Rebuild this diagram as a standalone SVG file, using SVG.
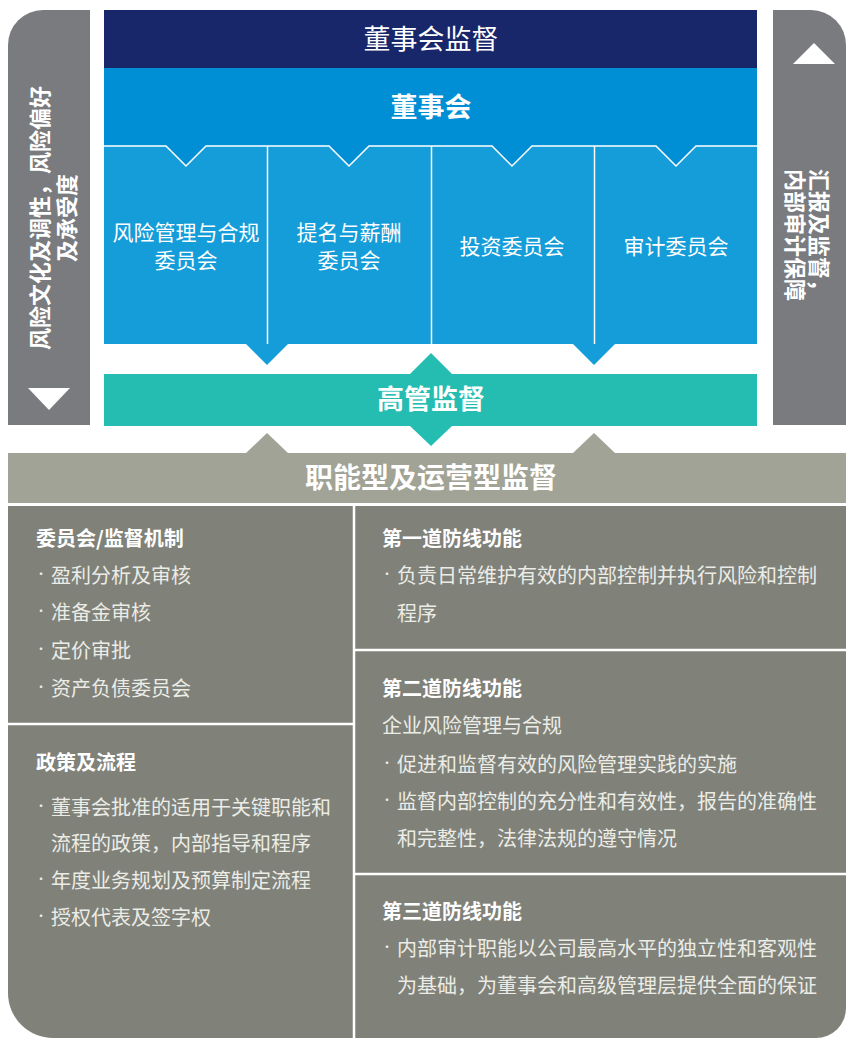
<svg xmlns="http://www.w3.org/2000/svg" width="846" height="1038" viewBox="0 0 846 1038">
<style>
.t{font-family:"Noto Sans CJK SC","Noto Sans",sans-serif;fill:#ffffff}
.b{font-weight:bold}
.c{text-anchor:middle}
.body{font-size:20px;fill:#ecece7}
.h{font-size:20px;font-weight:bold;fill:#ffffff}
.bul{font-size:12px}
.sep{stroke:#ffffff;stroke-width:2.5;fill:none}
.thin{stroke:#ffffff;stroke-width:1.5;fill:none}
</style>
<rect width="846" height="1038" fill="#ffffff"/>

<g id="side-left">
<path d="M43,10 H90 V425 H8 V45 A35,35 0 0 1 43,10 Z" fill="#7a7b7f"/>
<polygon points="28,388 70,388 49,410" fill="#ffffff"/>
<g transform="translate(50,218) rotate(-90)">
<text class="t b c" font-size="22" x="0" y="-12" dominant-baseline="central">风险文化及调性，风险偏好</text>
<text class="t b c" font-size="22" x="0" y="15" dominant-baseline="central">及承受度</text>
</g>
</g>

<g id="side-right">
<path d="M773,10 H811 A35,35 0 0 1 846,45 V425 H773 Z" fill="#7a7b7f"/>
<polygon points="793,64 835,64 814,43" fill="#ffffff"/>
<g transform="translate(809,235) rotate(90)">
<text class="t b c" font-size="22" x="0" y="-12" dominant-baseline="central">汇报及监督，</text>
<text class="t b c" font-size="22" x="0" y="12" dominant-baseline="central">内部审计保障</text>
</g>
</g>

<g id="board-oversight">
<rect x="104" y="10" width="653" height="58" fill="#18266a"/>
<text class="t c" font-size="27" x="431" y="49">董事会监督</text>
</g>

<g id="committees">
<rect x="104" y="146" width="653" height="198" fill="#149dd9"/>
<g id="committee-risk"><text class="t c" font-size="21" x="186" y="240">风险管理与合规</text><text class="t c" font-size="21" x="186" y="268">委员会</text></g>
<g id="committee-nomination"><text class="t c" font-size="21" x="349" y="240">提名与薪酬</text><text class="t c" font-size="21" x="349" y="268">委员会</text></g>
<g id="committee-investment"><text class="t c" font-size="21" x="512" y="254">投资委员会</text></g>
<g id="committee-audit"><text class="t c" font-size="21" x="676" y="254">审计委员会</text></g>
<line class="thin" x1="267.5" y1="146" x2="267.5" y2="344"/>
<line class="thin" x1="431.5" y1="146" x2="431.5" y2="344"/>
<line class="thin" x1="594.5" y1="146" x2="594.5" y2="344"/>
</g>

<g id="board">
<rect x="104" y="68" width="653" height="78" fill="#008fd5"/>
<polygon points="166,146 186,166 206,146" fill="#008fd5"/>
<polygon points="329,146 349,166 369,146" fill="#008fd5"/>
<polygon points="492,146 512,166 532,146" fill="#008fd5"/>
<polygon points="656,146 676,166 696,146" fill="#008fd5"/>
<polyline class="thin" points="104,146 166,146 186,166 206,146 329,146 349,166 369,146 492,146 512,166 532,146 656,146 676,166 696,146 757,146"/>
<text class="t b c" font-size="27" x="431" y="117">董事会</text>
</g>

<g id="senior-management">
<rect x="104" y="374" width="653" height="52" fill="#25bdb1"/>
<text class="t b c" font-size="27" x="431" y="409">高管监督</text>
</g>

<g id="functional-header">
<rect x="8" y="453" width="838" height="50" fill="#a0a396"/>
<text class="t b c" font-size="28" x="431" y="488">职能型及运营型监督</text>
</g>

<g id="connectors">
<polygon points="246,344 288,344 267,365" fill="#149dd9"/>
<polygon points="573,344 615,344 594,365" fill="#149dd9"/>
<polygon points="410,374 452,374 431,353" fill="#25bdb1"/>
<polygon points="410,426 452,426 431,446" fill="#25bdb1"/>
<polygon points="246,453 288,453 267,433" fill="#a0a396"/>
<polygon points="573,453 615,453 594,433" fill="#a0a396"/>
</g>

<g id="sections">
<path d="M8,506 H846 V1008 A30,30 0 0 1 816,1038 H53 A45,45 0 0 1 8,993 Z" fill="#808279"/>
<line class="sep" x1="354" y1="506" x2="354" y2="1038"/>
<line class="sep" x1="8" y1="724" x2="354" y2="724"/>
<line class="sep" x1="354" y1="650" x2="846" y2="650"/>
<line class="sep" x1="354" y1="874" x2="846" y2="874"/>
</g>

<g id="committee-mechanism">
<text class="t h" x="36" y="546">委员会/监督机制</text>
<text class="t body" x="35" y="583"><tspan class="bul" dy="-4">•</tspan><tspan x="51" dy="4">盈利分析及审核</tspan></text>
<text class="t body" x="35" y="620"><tspan class="bul" dy="-4">•</tspan><tspan x="51" dy="4">准备金审核</tspan></text>
<text class="t body" x="35" y="658"><tspan class="bul" dy="-4">•</tspan><tspan x="51" dy="4">定价审批</tspan></text>
<text class="t body" x="35" y="696"><tspan class="bul" dy="-4">•</tspan><tspan x="51" dy="4">资产负债委员会</tspan></text>
</g>

<g id="policies">
<text class="t h" x="36" y="770">政策及流程</text>
<text class="t body" x="35" y="815"><tspan class="bul" dy="-4">•</tspan><tspan x="51" dy="4">董事会批准的适用于关键职能和</tspan></text>
<text class="t body" x="51" y="851">流程的政策，内部指导和程序</text>
<text class="t body" x="35" y="888"><tspan class="bul" dy="-4">•</tspan><tspan x="51" dy="4">年度业务规划及预算制定流程</tspan></text>
<text class="t body" x="35" y="925"><tspan class="bul" dy="-4">•</tspan><tspan x="51" dy="4">授权代表及签字权</tspan></text>
</g>

<g id="first-line">
<text class="t h" x="382" y="546">第一道防线功能</text>
<text class="t body" x="381" y="583"><tspan class="bul" dy="-4">•</tspan><tspan x="397" dy="4">负责日常维护有效的内部控制并执行风险和控制</tspan></text>
<text class="t body" x="397" y="621">程序</text>
</g>

<g id="second-line">
<text class="t h" x="382" y="696">第二道防线功能</text>
<text class="t body" x="382" y="733">企业风险管理与合规</text>
<text class="t body" x="381" y="772"><tspan class="bul" dy="-4">•</tspan><tspan x="397" dy="4">促进和监督有效的风险管理实践的实施</tspan></text>
<text class="t body" x="381" y="809"><tspan class="bul" dy="-4">•</tspan><tspan x="397" dy="4">监督内部控制的充分性和有效性，报告的准确性</tspan></text>
<text class="t body" x="397" y="846">和完整性，法律法规的遵守情况</text>
</g>

<g id="third-line">
<text class="t h" x="382" y="919">第三道防线功能</text>
<text class="t body" x="381" y="956"><tspan class="bul" dy="-4">•</tspan><tspan x="397" dy="4">内部审计职能以公司最高水平的独立性和客观性</tspan></text>
<text class="t body" x="397" y="993">为基础，为董事会和高级管理层提供全面的保证</text>
</g>
</svg>
